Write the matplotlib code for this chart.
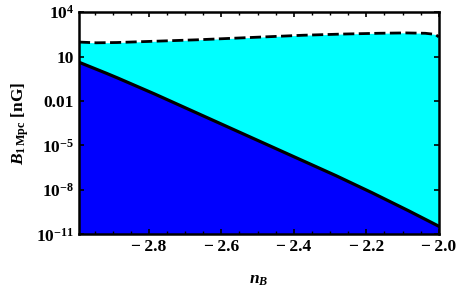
import numpy as np
import matplotlib
matplotlib.use("Agg")
from matplotlib import pyplot as plt
from matplotlib.ticker import FixedLocator, MultipleLocator

plt.rcParams['font.family'] = 'Liberation Serif'
plt.rcParams['font.weight'] = 'bold'
plt.rcParams['axes.labelweight'] = 'bold'
plt.rcParams['mathtext.fontset'] = 'custom'
plt.rcParams['mathtext.rm'] = 'Liberation Serif:bold'
plt.rcParams['mathtext.it'] = 'Liberation Serif:italic:bold'
plt.rcParams['mathtext.bf'] = 'Liberation Serif:bold'

# lower boundary (solid) and upper boundary (dashed), log10 of B in nG
n_solid = [-2.993, -2.95, -2.9, -2.8, -2.7, -2.6, -2.5, -2.4, -2.3, -2.2, -2.1, -2.0]
logB_solid = [0.62, 0.2, -0.3, -1.35, -2.45, -3.55, -4.65, -5.75, -6.85, -8.0, -9.2, -10.45]

n_dashed = [-2.993, -2.95, -2.9, -2.8, -2.7, -2.6, -2.5, -2.4, -2.3, -2.2, -2.1, -2.04, -2.01, -2.0]
logB_dashed = [1.98, 1.93, 1.94, 2.02, 2.1, 2.2, 2.31, 2.42, 2.5, 2.56, 2.6, 2.58, 2.5, 2.33]

x_ticks = [-2.8, -2.6, -2.4, -2.2, -2.0]
y_ticks = [1e-11, 1e-8, 1e-5, 1e-2, 1e1, 1e4]
y_ticklabels = ['$10^{-11}$', '$10^{-8}$', '$10^{-5}$', '0.01', '10', '$10^{4}$']

n = np.linspace(-2.993, -2.0, 400)
solid = 10 ** np.interp(n, n_solid, logB_solid)
dashed = 10 ** np.interp(n, n_dashed, logB_dashed)

fig = plt.figure(figsize=(4.59, 2.89), dpi=100)
ax = fig.add_axes([0.172, 0.189, 0.784, 0.769])

ax.fill_between(n, 1e-11, solid, color='#0000ff', lw=0)
ax.fill_between(n, solid, dashed, color='#00ffff', lw=0)
ax.plot(n, solid, color='black', lw=2.3)
ax.plot(n, dashed, color='black', lw=2.0, ls=(0, (4, 1.6)))

ax.set_yscale('log')
ax.set_xlim(-2.993, -2.0)
ax.set_ylim(1e-11, 1e4)

ax.xaxis.set_major_locator(FixedLocator(x_ticks))
ax.xaxis.set_minor_locator(MultipleLocator(0.05))
ax.set_xticklabels(['\u2212\u2009' + '%.1f' % abs(v) for v in x_ticks])
ax.yaxis.set_major_locator(FixedLocator(y_ticks))
ax.yaxis.set_minor_locator(FixedLocator([]))
ax.set_yticklabels(y_ticklabels)

ax.tick_params(which='both', direction='in', top=True, right=True, labelsize=12.5)
ax.tick_params(which='major', length=3.5, width=1.2)
ax.tick_params(which='minor', length=2, width=1)
for s in ax.spines.values():
    s.set_linewidth(1.8)

ax.set_xlabel('$n_B$', fontsize=12.5)
ax.set_ylabel('$B_{1\\,\\mathrm{Mpc}}$ [nG]', fontsize=12.5, fontweight='bold')
ax.xaxis.labelpad = 12
ax.yaxis.labelpad = 4

fig.savefig('out.png', dpi=100)
